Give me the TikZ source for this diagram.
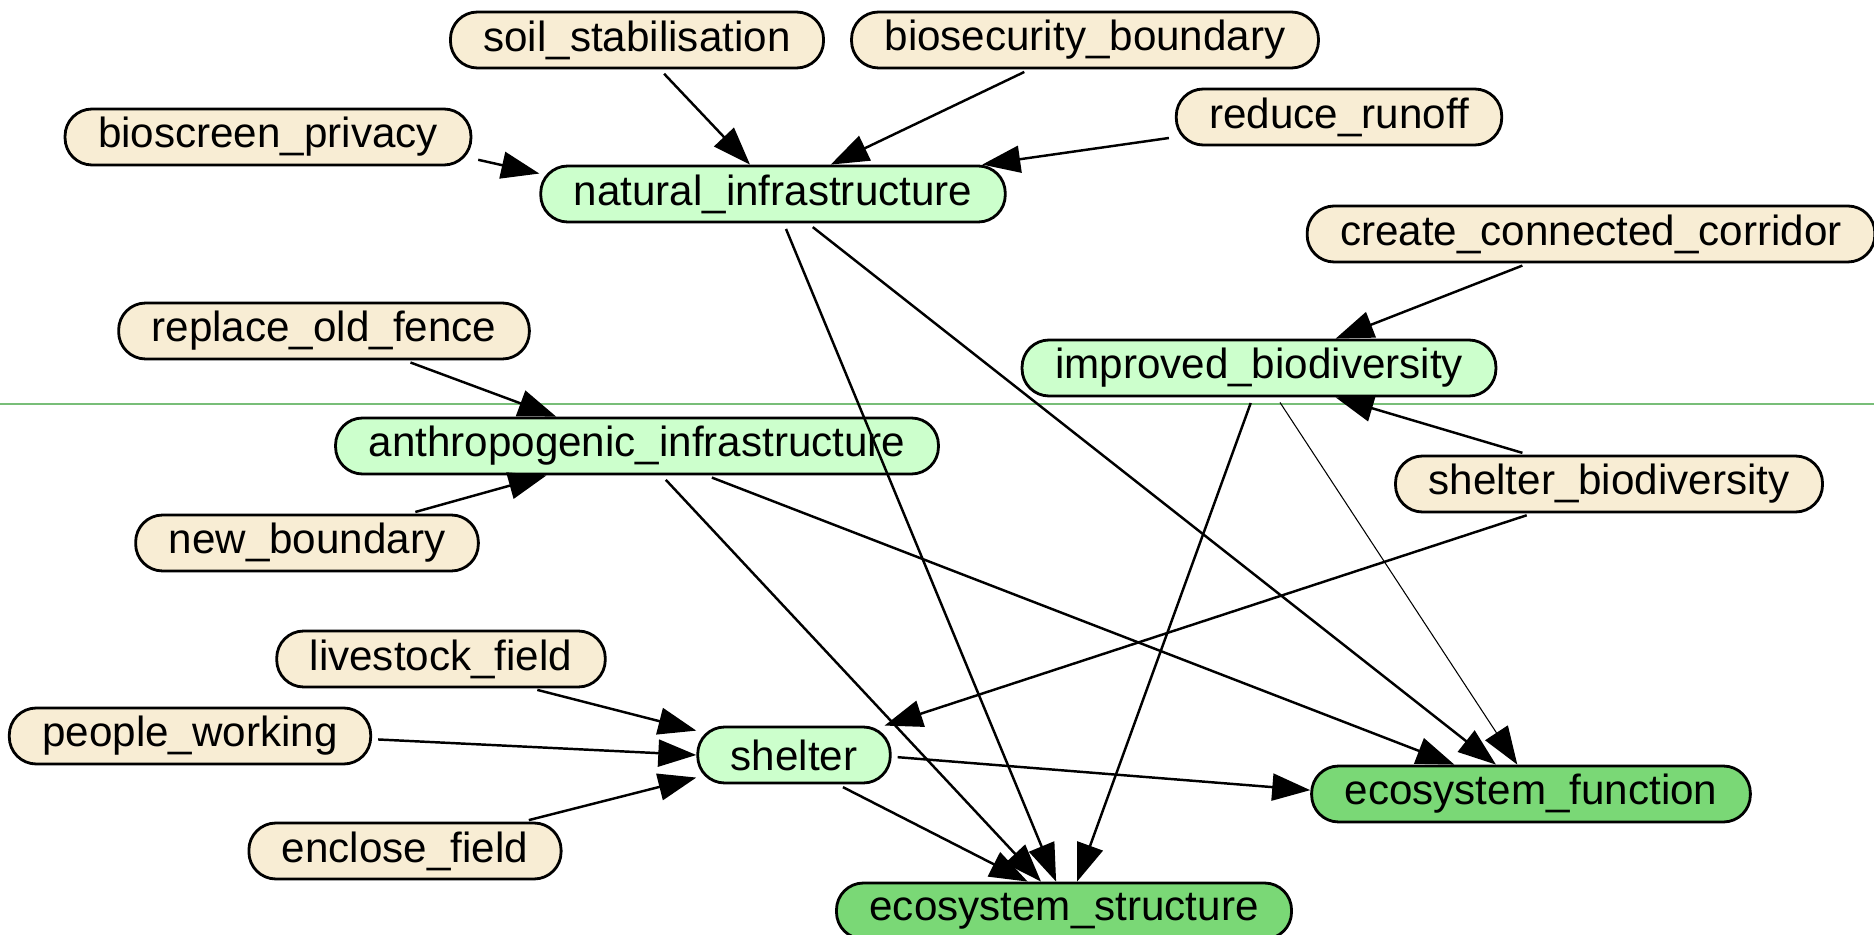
\documentclass[tikz,border=0pt]{standalone}
\usepackage{fontspec}
\setmainfont{Liberation Sans}
\usetikzlibrary{arrows.meta,positioning}
\definecolor{cause area}{RGB}{248,237,212}
\definecolor{mid area}{RGB}{204,255,204}
\definecolor{goal area}{RGB}{122,216,118}
\definecolor{rule line}{RGB}{120,190,120}
\tikzset{factor/.style={draw=black, line width=0.8pt, rounded corners=2.7mm,
        minimum height=5.6mm, inner xsep=3.3mm, inner ysep=0pt,
        font=\fontsize{12}{14}\selectfont},
    cause/.style={factor, fill=cause area},
    mid/.style={factor, fill=mid area},
    goal/.style={factor, fill=goal area},
    link/.style={line width=0.7pt, shorten <=0.6mm,
        -{Triangle[length=3.8mm,width=2.7mm]}}}

\begin{document}
\begin{tikzpicture}[x=0.1mm, y=-0.1mm]
    \useasboundingbox (0,0) rectangle (1874,935);
    \draw[rule line, line width=0.3pt] (0,404) -- (1874,404);

    \node[cause] (soil)       at (637,40)   {soil\_stabilisation};
    \node[cause] (biosec)     at (1085,40)  {biosecurity\_boundary};
    \node[cause] (bioscreen)  at (268,137)  {bioscreen\_privacy};
    \node[cause] (runoff)     at (1339,117) {reduce\_runoff};
    \node[mid]   (natural)    at (773,194)  {natural\_infrastructure};
    \node[cause] (corridor)   at (1591,234) {create\_connected\_corridor};
    \node[cause] (fence)      at (324,331)  {replace\_old\_fence};
    \node[mid]   (improved)   at (1259,368) {improved\_biodiversity};
    \node[mid]   (anthro)     at (637,446)  {anthropogenic\_infrastructure};
    \node[cause] (shelterbio) at (1609,484) {shelter\_biodiversity};
    \node[cause] (newbound)   at (307,543)  {new\_boundary};
    \node[cause] (livestock)  at (441,659)  {livestock\_field};
    \node[cause] (people)     at (190,736)  {people\_working};
    \node[mid]   (shelter)    at (794,755)  {shelter};
    \node[goal]  (ecofunc)    at (1531,794) {ecosystem\_function};
    \node[cause] (enclose)    at (405,851)  {enclose\_field};
    \node[goal]  (ecostruct)  at (1064,911) {ecosystem\_structure};

    \foreach \a/\b in {soil.-52/natural.128, biosec.-152/natural.27,
            bioscreen.-6/natural.175, runoff.-173/natural.8,
            corridor.-155/improved.21, shelterbio.160/improved.-21,
            fence.-20/anthro.160, newbound.16/anthro.-162,
            livestock.-18/shelter.166, people.-1/shelter.180,
            enclose.14/shelter.-167,
            natural.-70/ecostruct.105, natural.-40/ecofunc.140,
            anthro.-50/ecostruct.128, anthro.-23/ecofunc.159,
            improved.-102/ecostruct.66,
            shelterbio.-159/shelter.18, shelter.-1/ecofunc.179,
            shelter.-34/ecostruct.141}
        \draw[link] (\a) -- (\b);
    \draw[link, line width=0.3pt] (improved.-59) -- (ecofunc.115);
\end{tikzpicture}
\end{document}
